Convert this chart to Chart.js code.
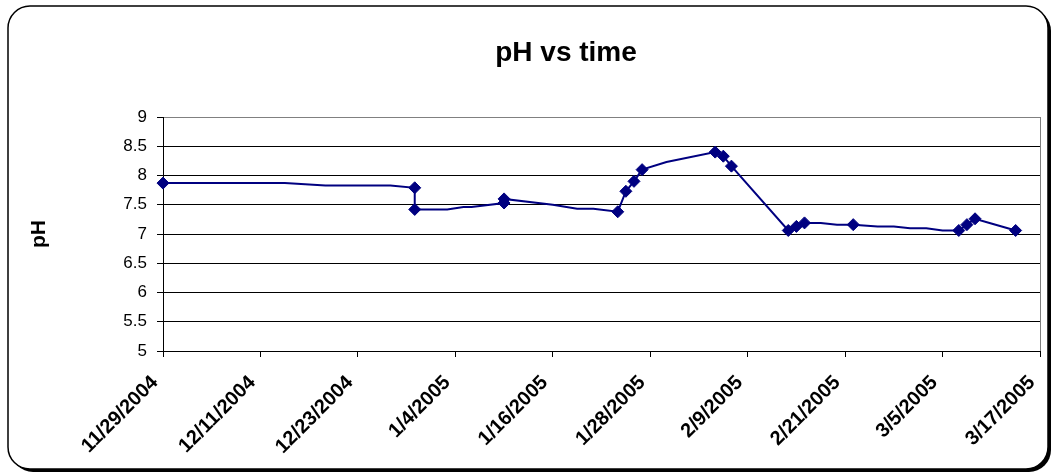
<!DOCTYPE html>
<html>
<head>
  <meta charset="UTF-8">
  <title>pH vs time</title>
  <script src="https://cdn.jsdelivr.net/npm/chart.js@4.4.1/dist/chart.umd.min.js"></script>
  <style>
    html, body { margin: 0; padding: 0; background: #fff; }
    #chart { display: block; }
  </style>
</head>
<body>
<canvas id="chart" width="1054" height="476"></canvas>
<script>
  // readings
  var sampleDates = [
    "2004-11-29", "2004-12-14", "2004-12-19", "2004-12-27", "2004-12-30", "2004-12-30",
    "2005-01-03", "2005-01-05", "2005-01-06", "2005-01-10", "2005-01-10", "2005-01-16",
    "2005-01-19", "2005-01-21", "2005-01-24", "2005-01-25", "2005-01-26", "2005-01-27",
    "2005-01-30", "2005-02-05", "2005-02-06", "2005-02-07", "2005-02-14", "2005-02-15",
    "2005-02-16", "2005-02-18", "2005-02-20", "2005-02-22", "2005-02-25", "2005-02-27",
    "2005-03-01", "2005-03-03", "2005-03-05", "2005-03-07", "2005-03-08", "2005-03-09",
    "2005-03-11", "2005-03-14"
  ];
  var phValues = [
    7.87, 7.87, 7.83, 7.83, 7.79, 7.42,
    7.42, 7.46, 7.46, 7.53, 7.60, 7.50,
    7.43, 7.43, 7.38, 7.73, 7.90, 8.10,
    8.23, 8.40, 8.33, 8.16, 7.06, 7.13,
    7.19, 7.19, 7.16, 7.16, 7.13, 7.13,
    7.10, 7.10, 7.06, 7.06, 7.16, 7.26,
    7.18, 7.06
  ];
  // which readings show a marker
  var marked = [
    1, 0, 0, 0, 1, 1,
    0, 0, 0, 1, 1, 0,
    0, 0, 1, 1, 1, 1,
    0, 1, 1, 1, 1, 1,
    1, 0, 0, 1, 0, 0,
    0, 0, 0, 1, 1, 1,
    0, 1
  ];
  var axisStart = "2004-11-29";
  var axisEnd = "2005-03-17";
  var dayStep = 12;
  var phMin = 5, phMax = 9, phStep = 0.5;

  var DAY = 86400000;
  function toUTC(s) {
    var p = s.split("-");
    return Date.UTC(+p[0], +p[1] - 1, +p[2]);
  }
  var base = toUTC(axisStart);
  function dayOf(s) { return Math.round((toUTC(s) - base) / DAY); }
  function dateLabel(day) {
    var d = new Date(base + day * DAY);
    return (d.getUTCMonth() + 1) + "/" + d.getUTCDate() + "/" + d.getUTCFullYear();
  }

  var points = sampleDates.map(function(s, i) {
    return { x: dayOf(s), y: phValues[i] };
  });

  var FONT = "'Liberation Sans', Arial, sans-serif";

  // rounded frame with a drop shadow, plus the chart title
  var framePlugin = {
    id: "frame",
    beforeDraw: function(chart) {
      var ctx = chart.ctx;
      ctx.save();
      ctx.fillStyle = "#fff";
      ctx.fillRect(0, 0, chart.width, chart.height);
      ctx.fillStyle = "#000";
      ctx.beginPath();
      ctx.roundRect(11, 9, 1040, 463, 22);
      ctx.fill();
      ctx.fillStyle = "#fff";
      ctx.strokeStyle = "#000";
      ctx.lineWidth = 1.5;
      ctx.beginPath();
      ctx.roundRect(8, 6, 1040, 463, 22);
      ctx.fill();
      ctx.stroke();
      ctx.restore();
    },
    afterDraw: function(chart) {
      var ctx = chart.ctx;
      ctx.save();
      ctx.fillStyle = "#000";
      ctx.font = "bold 28px " + FONT;
      ctx.textAlign = "center";
      ctx.textBaseline = "alphabetic";
      ctx.fillText("pH vs time", 566, 61);
      ctx.restore();
    }
  };

  new Chart(document.getElementById("chart"), {
    type: "line",
    data: {
      datasets: [{
        label: "pH",
        data: points,
        borderColor: "#000080",
        borderWidth: 2,
        backgroundColor: "#000080",
        pointStyle: "rectRot",
        pointRadius: function(c) { return marked[c.dataIndex] ? 6 : 0; },
        pointHoverRadius: function(c) { return marked[c.dataIndex] ? 6 : 0; },
        pointBorderWidth: 1,
        pointBorderColor: "#000080",
        pointBackgroundColor: "#000080",
        tension: 0,
        clip: false
      }]
    },
    options: {
      responsive: false,
      animation: false,
      layout: { padding: { top: 117, right: 14, bottom: 0, left: 0 } },
      plugins: {
        legend: { display: false },
        title: { display: false },
        tooltip: { enabled: false }
      },
      scales: {
        x: {
          type: "linear",
          min: dayOf(axisStart),
          max: dayOf(axisEnd),
          afterBuildTicks: function(scale) {
            var t = [];
            for (var d = scale.min; d <= scale.max; d += dayStep) t.push({ value: d });
            scale.ticks = t;
          },
          afterFit: function(scale) {
            scale.height = 476 - 351;
            scale.paddingLeft = 0;
            scale.paddingRight = 0;
          },
          border: { display: true, color: "#000", width: 1 },
          grid: {
            drawOnChartArea: true,
            color: function(c) { return c.tick && c.tick.value === dayOf(axisEnd) ? "#808080" : "rgba(0,0,0,0)"; },
            tickColor: "#000",
            tickLength: 6
          },
          ticks: {
            autoSkip: false,
            maxRotation: 45,
            minRotation: 45,
            padding: 14,
            labelOffset: -8,
            color: "#000",
            font: { family: FONT, size: 20, weight: "bold" },
            callback: function(v) { return dateLabel(v); }
          }
        },
        y: {
          min: phMin,
          max: phMax,
          afterFit: function(scale) {
            scale.width = 163;
            scale.paddingTop = 0;
            scale.paddingBottom = 0;
          },
          border: { display: true, color: "#000", width: 1 },
          grid: {
            color: function(c) { return c.tick && c.tick.value === phMax ? "#808080" : "#000"; },
            tickColor: "#000",
            tickLength: 6
          },
          ticks: {
            stepSize: phStep,
            padding: 10,
            color: "#000",
            font: { family: FONT, size: 17 },
            callback: function(v) { return String(+v.toFixed(1)); }
          },
          title: {
            display: true,
            text: "pH",
            color: "#000",
            font: { family: FONT, size: 21, weight: "bold" },
            padding: { top: 27, bottom: 0 }
          }
        }
      }
    },
    plugins: [framePlugin]
  });
</script>
</body>
</html>
